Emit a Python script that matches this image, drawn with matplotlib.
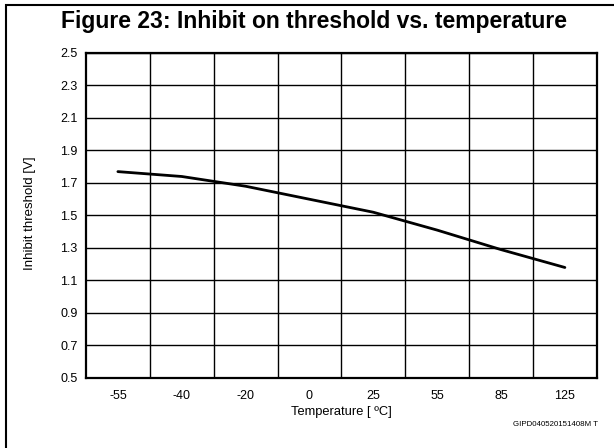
import matplotlib.pyplot as plt
from matplotlib.patches import Rectangle

plt.rcParams['font.family'] = ['Liberation Sans', 'DejaVu Sans']

temps = ['-55', '-40', '-20', '0', '25', '55', '85', '125']
threshold = [1.77, 1.74, 1.68, 1.60, 1.52, 1.41, 1.29, 1.18]
yticks = [0.5, 0.7, 0.9, 1.1, 1.3, 1.5, 1.7, 1.9, 2.1, 2.3, 2.5]

fig = plt.figure(figsize=(6.14, 4.48), dpi=100)
ax = fig.add_axes([0.140, 0.1563, 0.832, 0.7254])

x = list(range(len(temps)))
ax.plot(x, threshold, color='black', lw=2.0, solid_capstyle='round', zorder=3)

ax.set_xlim(-0.5, len(temps) - 0.5)
ax.set_ylim(0.5, 2.5)
ax.set_xticks(x)
ax.set_xticklabels(temps, fontsize=9)
ax.set_xticks([i + 0.5 for i in x[:-1]], minor=True)
ax.set_yticks(yticks)
ax.set_yticklabels([f'{v:.1f}' for v in yticks], fontsize=9)
ax.tick_params(which='both', length=0)
ax.tick_params(axis='x', pad=9)
ax.tick_params(axis='y', pad=6)

ax.grid(True, which='minor', axis='x', color='black', lw=1.0)
ax.grid(True, which='major', axis='y', color='black', lw=1.0)
for s in ax.spines.values():
    s.set_linewidth(1.6)

fig.text(0.511, 0.953, 'Figure 23: Inhibit on threshold vs. temperature',
         ha='center', va='center', fontsize=16.5, fontweight='bold')
fig.text(0.556, 0.08, 'Temperature [ ºC]', ha='center', va='center', fontsize=9.3)
fig.text(0.049, 0.525, 'Inhibit threshold [V]', ha='center', va='center',
         rotation=90, fontsize=9.5)
fig.text(0.974, 0.053, 'GIPD040520151408M T', ha='right', va='center', fontsize=5.7)

# outer frame (open at right and bottom)
fig.add_artist(Rectangle((0.0105, -0.1), 1.2, 1.089, transform=fig.transFigure,
                         fill=False, edgecolor='black', lw=1.5))

fig.savefig('out.png', dpi=100)
